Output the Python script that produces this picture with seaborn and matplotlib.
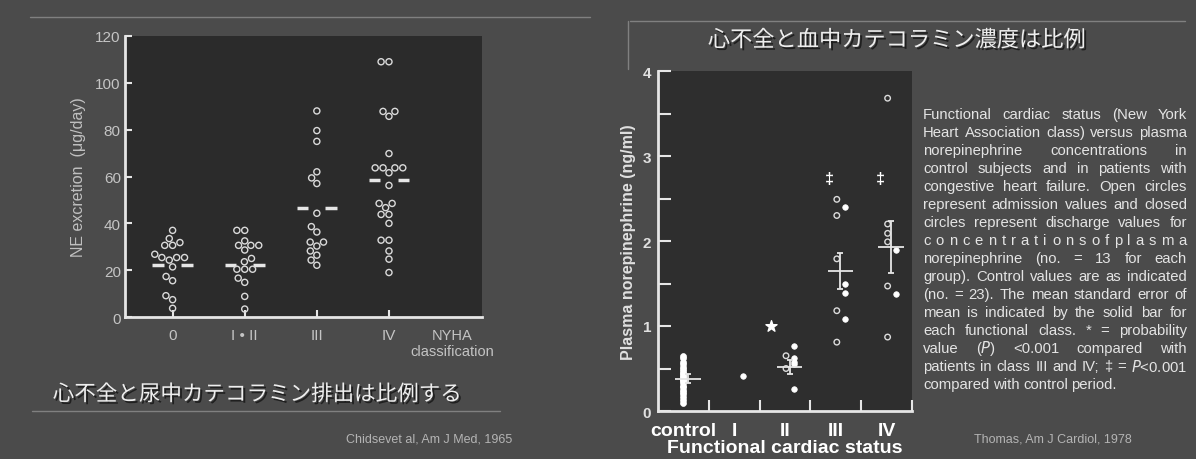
import pandas as pd
import matplotlib.pyplot as plt
import matplotlib.patheffects as pe
import seaborn as sns
from matplotlib.lines import Line2D

sns.set_theme(style="ticks")
plt.rcParams["font.family"] = ["Liberation Sans", "Noto Sans CJK JP", "DejaVu Sans"]

W, H = 1196, 460

# ===============================
# Datos - gráfica izquierda (Chidsey 1965)
# ===============================
nyha_groups = ["0", "I • II", "III", "IV"]
ne_g0 = [37, 33.5, 31.8, 30.6, 30.6, 26.8, 25.4, 25.4, 25.4, 24.3, 21.4, 17.3, 15.5, 9.1, 7.4, 3.7]
ne_g12 = [37, 37, 32.5, 30.6, 30.6, 30.6, 28.6, 25, 23.6, 20.4, 20.4, 20.4, 16.6, 14.8, 8.8, 3.4]
ne_g3 = [88, 79.6, 75, 62, 59.4, 57, 44.3, 38.6, 36.3, 32, 32, 30.3, 28.2, 26.4, 24.3, 22.1]
ne_g4 = [109, 109, 87.8, 87.8, 85.7, 69.8, 63.7, 63.7, 63.7, 63.7, 61.6, 56.2,
         48.5, 48.5, 46.7, 43.8, 43.8, 40, 32.8, 32.8, 28.2, 24.7, 19]
ne_means = [22.3, 22.3, 46.7, 58.4]

# ===============================
# Datos - gráfica derecha (Thomas 1978)
# ===============================
status_labels = ["control", "I", "II", "III", "IV"]
control_vals = [0.65, 0.62, 0.58, 0.55, 0.52, 0.5, 0.47, 0.45, 0.43, 0.41, 0.4, 0.38,
                0.37, 0.35, 0.33, 0.3, 0.28, 0.25, 0.22, 0.2, 0.17, 0.13, 0.1]
adm_status = ["II", "II", "III", "III", "III", "III", "III", "IV", "IV", "IV", "IV", "IV", "IV"]
adm_vals = [0.65, 0.5, 2.49, 2.30, 1.79, 1.18, 0.81, 3.68, 2.20, 2.09, 1.99, 1.47, 0.87]
dis_status = ["I", "II", "II", "II", "II", "II", "III", "III", "III", "III", "IV", "IV"]
dis_vals = [0.415, 0.76, 0.62, 0.58, 0.55, 0.26, 2.40, 1.49, 1.39, 1.08, 1.89, 1.38]
mean_status = ["control", "II", "III", "IV"]
mean_vals = [0.38, 0.52, 1.65, 1.93]
sem_vals = [0.05, 0.08, 0.21, 0.31]
dagger_status = ["III", "IV"]
dagger_y = 2.74
star_y = 1.0

caption_lines = [
    "Functional cardiac status (New York",
    "Heart Association class) versus plasma",
    "norepinephrine concentrations in",
    "control subjects and in patients with",
    "congestive heart failure. Open circles",
    "represent admission values and closed",
    "circles represent discharge values for",
    "concentrations of plasma",
    "norepinephrine (no. = 13 for each",
    "group). Control values are as indicated",
    "(no. = 23). The mean standard error of",
    "mean is indicated by the solid bar for",
    "each functional class. * = probability",
    "value ($\\mathit{P}$) <0.001 compared with",
    "patients in class III and IV; ‡ = $\\mathit{P}$<0.001",
    "compared with control period.",
]

title_left = "心不全と尿中カテコラミン排出は比例する"
title_right = "心不全と血中カテコラミン濃度は比例"
cite_left = "Chidsevet al, Am J Med, 1965"
cite_right = "Thomas, Am J Cardiol, 1978"

bg = "#4b4b4b"
fg = "#e6e6e6"
shadow = [pe.SimplePatchShadow(offset=(1.5, -1.5), shadow_rgbFace="#151515", alpha=0.8),
          pe.Normal()]

fig = plt.figure(figsize=(W / 100, H / 100), dpi=100, facecolor=bg)

# ===============================
# 1. Excreción de NE por clase NYHA
# ===============================
df_ne = pd.DataFrame({
    "grupo": [nyha_groups[0]] * len(ne_g0) + [nyha_groups[1]] * len(ne_g12)
             + [nyha_groups[2]] * len(ne_g3) + [nyha_groups[3]] * len(ne_g4),
    "ne": ne_g0 + ne_g12 + ne_g3 + ne_g4,
})

ax1 = fig.add_axes([125 / W, 1 - 318 / H, (482 - 125) / W, (318 - 37) / H])
ax1.set_facecolor("#2b2b2b")
sns.swarmplot(data=df_ne, x="grupo", y="ne", order=nyha_groups, ax=ax1,
              size=4.4, color="white")
for c in ax1.collections:
    c.set_facecolor("none")
    c.set_edgecolor("#dadada")
    c.set_linewidth(1.0)

for i, m in enumerate(ne_means):
    ax1.hlines([m, m], [i - 0.28, i + 0.12], [i - 0.12, i + 0.28], color=fg, lw=2.5)

ax1.set_xlim(-0.66, 4.29)
ax1.set_ylim(0, 120)
ax1.set_yticks(range(0, 121, 20))
ax1.set_xticks(range(4), nyha_groups)
ax1.set_xlabel("")
ax1.set_ylabel("NE excretion  (μg/day)", color="#c0c0c0", fontsize=11.5, labelpad=7)
ax1.tick_params(direction="in", length=5, width=1.5, color=fg, labelcolor="#c4c4c4",
                labelsize=11)
ax1.tick_params(axis="x", pad=8)
ax1.tick_params(axis="y", pad=3)
for s in ["top", "right"]:
    ax1.spines[s].set_visible(False)
for s in ["left", "bottom"]:
    ax1.spines[s].set_color(fg)
    ax1.spines[s].set_linewidth(2)
ax1.text(3.88, -0.04, "NYHA\nclassification", transform=ax1.get_xaxis_transform(),
         ha="center", va="top", color="#c4c4c4", fontsize=10.5, linespacing=1.2)

# ===============================
# 2. Noradrenalina plasmática por estado funcional
# ===============================
pos = {s: i for i, s in enumerate(status_labels)}

ax2 = fig.add_axes([658 / W, 1 - 412 / H, (912 - 658) / W, (412 - 72) / H])
ax2.set_facecolor("#2e2e2e")

# control: columna densa
sns.scatterplot(x=[0] * len(control_vals), y=control_vals, ax=ax2, s=18,
                color="white", edgecolor="white", linewidth=0.5)
# admisión: círculos abiertos
sns.scatterplot(x=[pos[s] + 0.02 for s in adm_status], y=adm_vals, ax=ax2, s=16,
                color="white", linewidth=1.0)
ax2.collections[-1].set_facecolor("none")
ax2.collections[-1].set_edgecolor("#dcdcdc")
# alta: círculos cerrados
sns.scatterplot(x=[pos[s] + 0.18 for s in dis_status], y=dis_vals, ax=ax2, s=16,
                color="white", edgecolor="white", linewidth=0.5)

mx = [pos[s] + 0.09 for s in mean_status]
ax2.hlines(mean_vals, [x - 0.25 for x in mx], [x + 0.25 for x in mx], color=fg, lw=1.3)
ax2.errorbar(mx, mean_vals, yerr=sem_vals, fmt="none", ecolor=fg, elinewidth=1.3,
             capsize=2.5, capthick=1.3)

ax2.scatter([1.72], [star_y], marker="*", s=70, color="white", zorder=3)
for s in dagger_status:
    ax2.text(pos[s] - 0.13, dagger_y, "‡", ha="center", va="center", color="white",
             fontsize=11.5, fontweight="bold")

ax2.set_xlim(-0.5, 4.5)
ax2.set_ylim(0, 4)
ax2.set_xticks(range(5), status_labels)
ax2.set_xticks([i + 0.5 for i in range(5)], minor=True)
ax2.set_yticks(range(5))
ax2.set_yticks([i + 0.5 for i in range(4)], minor=True)
ax2.tick_params(axis="x", which="major", length=0, pad=8, labelsize=14, labelcolor="white")
ax2.tick_params(axis="x", which="minor", direction="in", length=8, width=1.5, color=fg)
ax2.tick_params(axis="y", which="both", direction="in", length=9, width=1.5, color=fg,
                labelsize=11, labelcolor="#e0e0e0", pad=5)
for lab in ax2.get_xticklabels() + ax2.get_yticklabels():
    lab.set_fontweight("bold")
ax2.set_xlabel("Functional cardiac status", color="white", fontsize=14,
               fontweight="bold", labelpad=0)
ax2.set_ylabel("Plasma norepinephrine (ng/ml)", color="#e0e0e0", fontsize=11.5,
               fontweight="bold", labelpad=5)
for s in ["top", "right"]:
    ax2.spines[s].set_visible(False)
for s in ["left", "bottom"]:
    ax2.spines[s].set_color(fg)
    ax2.spines[s].set_linewidth(2)

# ===============================
# Títulos, citas y líneas de la diapositiva
# ===============================
fig.text(257 / W, 1 - 396 / H, title_left, ha="center", va="center", fontsize=15.5,
         color="#eeeeee", path_effects=shadow)
fig.text(897 / W, 1 - 42 / H, title_right, ha="center", va="center", fontsize=16,
         color="#eeeeee", path_effects=shadow)
fig.text(512 / W, 1 - 440 / H, cite_left, ha="right", va="center", fontsize=9,
         color="#b4b4b4")
fig.text(1132 / W, 1 - 440 / H, cite_right, ha="right", va="center", fontsize=9,
         color="#b4b4b4")

line_col = "#808080"
fig.add_artist(Line2D([32 / W, 500 / W], [1 - 412 / H] * 2, color=line_col, lw=1))
fig.add_artist(Line2D([30 / W, 590 / W], [1 - 18 / H] * 2, color=line_col, lw=1))
fig.add_artist(Line2D([630 / W, 1185 / W], [1 - 22 / H] * 2, color=line_col, lw=1))
fig.add_artist(Line2D([628 / W, 628 / W], [1 - 22 / H, 1 - 70 / H], color=line_col, lw=1))

# párrafo justificado
fig.canvas.draw()
r = fig.canvas.get_renderer()
x0, x1 = 923 / W, 1187 / W
for k, line in enumerate(caption_lines):
    y = 1 - (115 + k * 18) / H
    # la línea muy espaciada del original se reparte letra a letra
    words = list(line.replace(" ", "")) if k == 7 else line.split()
    texts = [fig.text(0, y, w, fontsize=10.7, color="#e4e4e4", va="center") for w in words]
    widths = [t.get_window_extent(r).width / W for t in texts]
    if k == len(caption_lines) - 1:
        gap = 3.5 / W
    else:
        gap = max((x1 - x0 - sum(widths)) / (len(words) - 1), 1.5 / W)
    x = x0
    for t, w in zip(texts, widths):
        t.set_x(x)
        x += w + gap

fig.savefig("out.png", dpi=100, facecolor=bg)
